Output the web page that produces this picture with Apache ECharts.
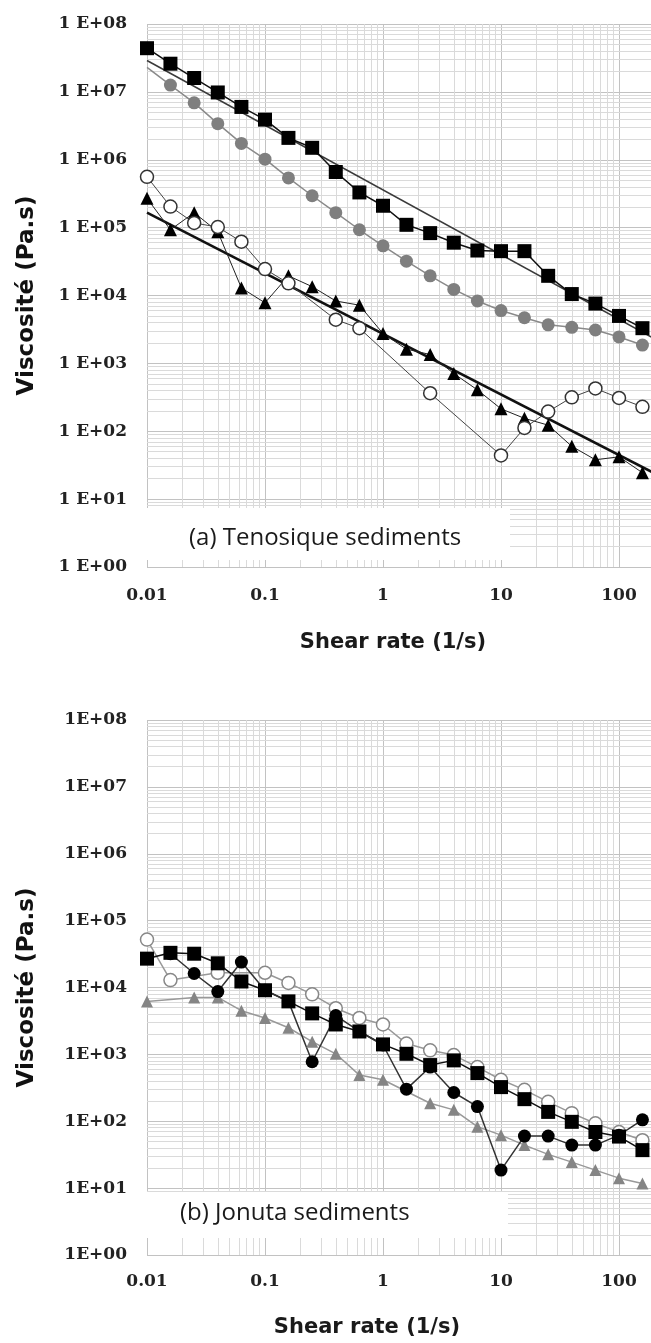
<!DOCTYPE html>
<html>
<head>
<meta charset="utf-8">
<script src="https://cdn.jsdelivr.net/npm/echarts@6/dist/echarts.min.js"></script>
<style>
  html, body { margin: 0; padding: 0; background: #fff; }
  #chart { width: 651px; height: 1343px; }
</style>
</head>
<body>
<div id="chart"></div>
<script>
// shear rate points (1/s), five per decade, shared by every series
const shearRate = [0.01, 0.0158, 0.0251, 0.0398, 0.0631, 0.1, 0.158, 0.251, 0.398, 0.631,
  1, 1.58, 2.51, 3.98, 6.31, 10, 15.8, 25.1, 39.8, 63.1, 100, 158];

// (a) Tenosique sediments - viscosity in Pa.s, null where no point
const tenSquares = [4.4e7, 2.6e7, 1.6e7, 9.8e6, 6.0e6, 3.9e6, 2.1e6, 1.5e6, 6.6e5, 3.3e5,
  2.1e5, 1.1e5, 8.3e4, 6.0e4, 4.6e4, 4.5e4, 4.5e4, 1.95e4, 1.05e4, 7.6e3, 5.0e3, 3.3e3];
const tenGrey = [2.3e7, 1.26e7, 6.9e6, 3.4e6, 1.74e6, 1.02e6, 5.4e5, 2.95e5, 1.66e5, 9.3e4,
  5.4e4, 3.2e4, 1.95e4, 1.23e4, 8.3e3, 6.0e3, 4.7e3, 3.7e3, 3.4e3, 3.1e3, 2.45e3, 1.86e3];
const tenOpen = [5.6e5, 2.04e5, 1.17e5, 1.02e5, 6.2e4, 2.45e4, 1.51e4, null, 4.4e3, 3.3e3,
  null, null, 363, null, null, 44, 112, 195, 316, 427, 309, 229];
const tenTriangles = [2.7e5, 9.3e4, 1.66e5, 8.7e4, 1.29e4, 7.8e3, 1.95e4, 1.35e4, 8.3e3, 7.2e3,
  2.75e3, 1.62e3, 1.35e3, 708, 407, 214, 155, 123, 60, 38, 42, 24.5];
// power-law fit lines, [shear rate, viscosity] end points
const tenSquareFit = [[0.01, 2.9e7], [200, 2.3e3]];
const tenTriangleFit = [[0.01, 1.66e5], [200, 24]];

// (b) Jonuta sediments
const jonSquares = [2.7e4, 3.3e4, 3.2e4, 2.3e4, 1.23e4, 9.1e3, 6.2e3, 4.1e3, 2.8e3, 2.2e3,
  1.41e3, 1.02e3, 692, 813, 525, 324, 214, 138, 98, 69, 59, 37];
const jonDots = [null, 3.2e4, 1.62e4, 8.7e3, 2.4e4, 9.1e3, 6.2e3, 776, 3.8e3, 2.2e3,
  1.38e3, 302, 646, 269, 166, 18.6, 60, 60, 44, 44, 62, 105];
const jonOpen = [5.2e4, 1.29e4, null, 1.66e4, null, 1.66e4, 1.17e4, 7.9e3, 4.9e3, 3.5e3,
  2.8e3, 1.45e3, 1.15e3, 977, 646, 417, 295, 195, 132, 93, 69, 52];
const jonTriangles = [6.2e3, null, 7.1e3, 7.1e3, 4.5e3, 3.5e3, 2.5e3, 1.55e3, 1.02e3, 490,
  417, null, 186, 148, 83, 62, 44, 32, 24.5, 18.6, 14.1, 11.7];

const panelTitles = ['(a) Tenosique sediments', '(b) Jonuta sediments'];
const xTitle = 'Shear rate (1/s)';
const yTitle = 'Viscosité (Pa.s)';

function pairs(vals) {
  const out = [];
  vals.forEach((v, i) => { if (v != null) out.push([shearRate[i], v]); });
  return out;
}

// light minor grid (2..9 x 10^n) drawn as mark lines on the log axes
function minorGrid(idx) {
  const lines = [];
  for (let e = -2; e < 3; e++) for (let m = 2; m < 10; m++) lines.push({ xAxis: m * Math.pow(10, e) });
  for (let e = 0; e < 8; e++) for (let m = 2; m < 10; m++) lines.push({ yAxis: m * Math.pow(10, e) });
  return {
    type: 'line', xAxisIndex: idx, yAxisIndex: idx, data: [], silent: true, z: 0,
    markLine: {
      z: 0, silent: true, symbol: ['none', 'none'], label: { show: false }, animation: false,
      lineStyle: { color: '#dadada', width: 1, type: 'solid' },
      data: lines
    }
  };
}

const serifBold = { fontFamily: 'DejaVu Serif', fontWeight: 'bold', fontSize: 17, color: '#222' };

function xAxisFor(idx, margin) {
  return {
    type: 'log', logBase: 10, gridIndex: idx, min: 0.01, max: 1000,
    axisLine: { show: false }, axisTick: { show: false },
    axisLabel: Object.assign({ margin: margin, formatter: v => String(v) }, serifBold),
    splitLine: { show: true, lineStyle: { color: '#c2c2c2', width: 1 } }
  };
}

function yAxisFor(idx, sep) {
  return {
    type: 'log', logBase: 10, gridIndex: idx, min: 1, max: 1e8, splitNumber: 8,
    axisLine: { show: false }, axisTick: { show: false },
    axisLabel: Object.assign({
      margin: 20,
      formatter: v => '1' + sep + 'E+' + String(Math.round(Math.log10(v))).padStart(2, '0')
    }, serifBold),
    splitLine: { show: true, lineStyle: { color: '#c2c2c2', width: 1 } },
    name: yTitle, nameLocation: 'middle', nameGap: 108, nameRotate: 90,
    nameTextStyle: { fontFamily: 'DejaVu Sans', fontWeight: 'bold', fontSize: 23, color: '#111' }
  };
}

function fitLine(idx, data, color, width) {
  return {
    type: 'line', xAxisIndex: idx, yAxisIndex: idx, data: data, symbol: 'none', z: 6,
    lineStyle: { color: color, width: width }
  };
}

function markerLine(idx, vals, symbol, size, item, line) {
  return {
    type: 'line', xAxisIndex: idx, yAxisIndex: idx, data: pairs(vals), z: 7,
    symbol: symbol, symbolSize: size, showSymbol: true,
    itemStyle: Object.assign({ opacity: 1 }, item),
    lineStyle: line
  };
}

function textEl(x, y, text, font, align) {
  return {
    type: 'text', x: x, y: y, z: 20,
    style: {
      text: text, font: font, fill: '#1a1a1a',
      textAlign: align, align: align,
      textVerticalAlign: 'middle', verticalAlign: 'middle'
    }
  };
}

const chart = echarts.init(document.getElementById('chart'), null, { renderer: 'canvas' });

chart.setOption({
  animation: false,
  backgroundColor: '#fff',
  grid: [
    { left: 147, top: 24, width: 590, height: 543, outerBoundsMode: 'none', containLabel: false },
    { left: 147, top: 720, width: 590, height: 535, outerBoundsMode: 'none', containLabel: false }
  ],
  xAxis: [xAxisFor(0, 20), xAxisFor(1, 18)],
  yAxis: [yAxisFor(0, ' '), yAxisFor(1, '')],
  series: [
    minorGrid(0),
    minorGrid(1),
    // (a)
    fitLine(0, tenSquareFit, '#3a3a3a', 1.5),
    fitLine(0, tenTriangleFit, '#111', 2.5),
    markerLine(0, tenSquares, 'rect', 14, { color: '#000' }, { color: '#111', width: 1.5 }),
    markerLine(0, tenGrey, 'circle', (v, p) => (p.dataIndex === 0 ? 0 : 13),
      { color: '#7f7f7f' }, { color: '#8a8a8a', width: 1.5 }),
    markerLine(0, tenTriangles, 'triangle', 13, { color: '#000' }, { color: '#222', width: 1 }),
    markerLine(0, tenOpen, 'circle', 13,
      { color: '#fff', borderColor: '#333', borderWidth: 1.5 }, { color: '#444', width: 1 }),
    // (b)
    markerLine(1, jonTriangles, 'triangle', 12, { color: '#858585' }, { color: '#999', width: 1.5 }),
    markerLine(1, jonOpen, 'circle', 13,
      { color: '#fff', borderColor: '#888', borderWidth: 1.5 }, { color: '#999', width: 1.5 }),
    markerLine(1, jonSquares, 'rect', 14, { color: '#000' }, { color: '#111', width: 1.5 }),
    markerLine(1, jonDots, 'circle', 13, { color: '#000' }, { color: '#333', width: 1.5 })
  ],
  graphic: [
    { type: 'rect', z: 10, shape: { x: 147, y: 508, width: 363, height: 52 }, style: { fill: '#fff' } },
    { type: 'rect', z: 10, shape: { x: 147, y: 1192, width: 361, height: 46 }, style: { fill: '#fff' } },
    textEl(189, 538, panelTitles[0], '24px "Open Sans"', 'left'),
    textEl(180, 1213, panelTitles[1], '24px "Open Sans"', 'left'),
    textEl(393, 643, xTitle, 'bold 21px "DejaVu Sans"', 'center'),
    textEl(367, 1328, xTitle, 'bold 21px "DejaVu Sans"', 'center')
  ]
});
</script>
</body>
</html>
